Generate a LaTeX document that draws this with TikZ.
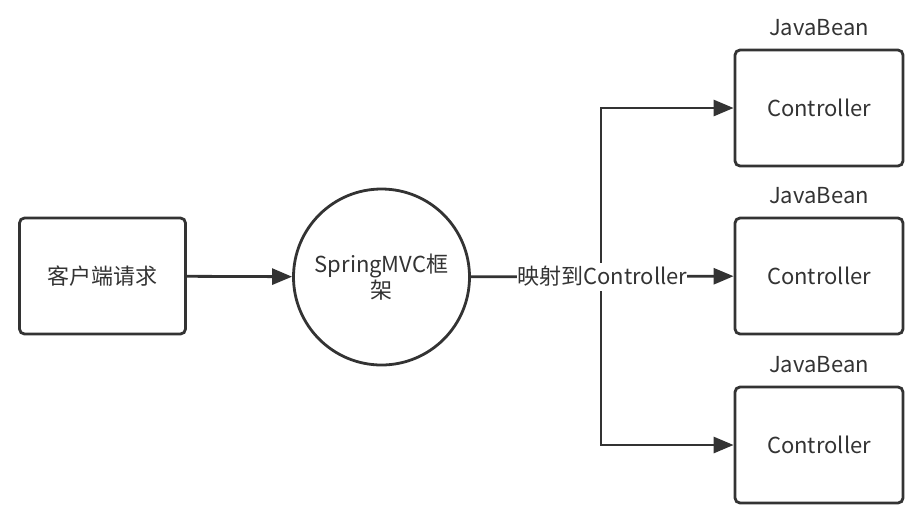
\documentclass[tikz,border=0pt]{standalone}
\usepackage{fontspec}
\setmainfont{Noto Sans CJK SC}
\usepackage{xcolor}
\usepackage{tikz}
\usetikzlibrary{positioning,arrows.meta}

\definecolor{ink}{HTML}{333333}
\tikzset{
  box/.style={draw=ink,line width=1.4pt,rounded corners=2.5pt,minimum width=83pt,minimum height=58pt,text=ink},
  hub/.style={draw=ink,line width=1.4pt,circle,minimum size=88pt,align=center,text=ink,inner sep=0pt},
  arr/.style={draw=ink,line width=1.4pt,-{Triangle[length=10pt,width=8pt]}},
  lbl/.style={fill=white,text=ink,inner sep=0pt,minimum height=14pt}
}

\begin{document}
\begin{tikzpicture}[x=0.5pt,y=-0.5pt,font=\fontsize{11}{13}\selectfont]
\useasboundingbox (0,0) rectangle (914,515);
\node[box] (client) at (102.5,276) {客户端请求};
\node[hub] (spring) at (381.5,277) {SpringMVC框\\架};
\node[box,minimum width=84pt] (ctrl1) at (819,108) {Controller};
\node[box,minimum width=84pt] (ctrl2) at (819,276) {Controller};
\node[box,minimum width=84pt] (ctrl3) at (819,445) {Controller};
\node[text=ink] (bean1) [above=3pt of ctrl1] {JavaBean};
\node[text=ink] (bean2) [above=3pt of ctrl2] {JavaBean};
\node[text=ink] (bean3) [above=3pt of ctrl3] {JavaBean};
\coordinate (split) at (601,276);
\draw[arr] (client) -- (spring);
\draw[arr] (split) |- (ctrl1);
\draw[arr] (split) |- (ctrl3);
\draw[arr] (spring) -- node[lbl] (maplbl) {映射到Controller} (ctrl2);
\end{tikzpicture}
\end{document}
